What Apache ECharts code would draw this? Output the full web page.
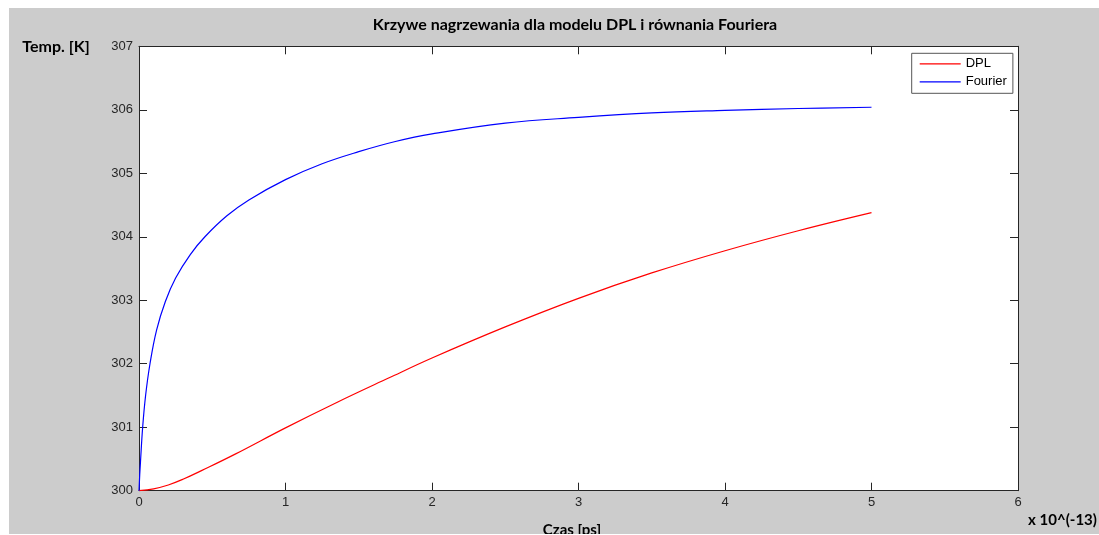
<!DOCTYPE html>
<html>
<head>
<meta charset="utf-8">
<script src="https://cdn.jsdelivr.net/npm/echarts@6/dist/echarts.min.js"></script>
<style>
  html, body { margin: 0; padding: 0; background: #ffffff; }
  #chart { position: absolute; left: 9px; top: 8px; width: 1090px; height: 526px; }
</style>
</head>
<body>
<div id="chart"></div>
<script>
// Heating curves: time in units of 1e-13 s, temperature in K
const dplTime = [0, 0.1, 0.2, 0.3, 0.43, 0.66, 1.0, 1.35, 1.7, 2.0, 2.5, 3.0, 3.5, 4.0, 4.5, 5.0];
const dplTemp = [300, 300.03, 300.09, 300.18, 300.32, 300.58, 300.99, 301.39, 301.77, 302.09, 302.58, 303.03, 303.43, 303.78, 304.095, 304.38];

const fourierTime = [0, 0.005, 0.01, 0.025, 0.045, 0.075, 0.12, 0.18, 0.25, 0.35, 0.45, 0.6, 0.75, 1.0, 1.25, 1.5, 1.75, 2.0, 2.5, 3.0, 3.5, 4.0, 4.5, 5.0];
const fourierTemp = [300, 300.25, 300.45, 301.0, 301.5, 302.0, 302.53, 302.98, 303.35, 303.72, 304.0, 304.33, 304.58, 304.9, 305.15, 305.34, 305.5, 305.62, 305.79, 305.88, 305.95, 305.99, 306.02, 306.04];

const seriesNames = ['DPL', 'Fourier'];
const seriesColors = ['#ff0000', '#0000ff'];

const xTicks = { min: 0, max: 6, step: 1 };
const yTicks = { min: 300, max: 307, step: 1 };

const titleText = 'Krzywe nagrzewania dla modelu DPL i równania Fouriera';
const yName = 'Temp. [K]';
const xName = 'Czas [ps]';
const xScale = 'x 10^(-13)';

const pairs = (xs, ys) => xs.map((x, i) => [x, ys[i]]);

const axisColor = '#262626';
const labelFont = { fontFamily: 'Liberation Sans', fontSize: 13, color: axisColor };
// thin horizontal bar used as the legend line sample
const legendLineIcon = 'path://M0,0h41v1.2h-41z';

function boxAxis(kind, pos, showLabels, t) {
  return {
    type: 'value', position: pos, min: t.min, max: t.max, interval: t.step,
    axisLine: { show: true, onZero: false, lineStyle: { color: axisColor, width: 1 } },
    axisTick: { show: true, inside: true, length: 8, lineStyle: { color: axisColor } },
    splitLine: { show: false },
    axisLabel: Object.assign({ show: showLabels, margin: kind === 'x' ? 5 : 6 }, labelFont)
  };
}

function label(text, x, y, size) {
  return {
    type: 'text',
    style: { text: text, font: 'bold ' + size + 'px Lato', fill: '#000', x: x, y: y, textAlign: 'center', textVerticalAlign: 'middle' }
  };
}

const chart = echarts.init(document.getElementById('chart'), null, { renderer: 'canvas' });
chart.setOption({
  backgroundColor: '#cccccc',
  animation: false,
  grid: { left: 130, top: 38.3, right: 81, bottom: 43.3, show: true, backgroundColor: '#ffffff', borderWidth: 0 },
  xAxis: [boxAxis('x', 'bottom', true, xTicks), boxAxis('x', 'top', false, xTicks)],
  yAxis: [boxAxis('y', 'left', true, yTicks), boxAxis('y', 'right', false, yTicks)],
  legend: {
    orient: 'vertical', left: 902.7, top: 45.3,
    padding: [4, 6, 5, 8], itemGap: 5, itemWidth: 41, itemHeight: 14,
    icon: legendLineIcon,
    backgroundColor: '#ffffff', borderColor: '#555555', borderWidth: 1,
    textStyle: { fontFamily: 'Liberation Sans', fontSize: 13, color: '#000000' },
    data: seriesNames
  },
  series: [
    {
      name: seriesNames[0], type: 'line', xAxisIndex: 0, yAxisIndex: 0,
      data: pairs(dplTime, dplTemp), symbol: 'none', smooth: 0.4,
      lineStyle: { color: seriesColors[0], width: 1.2 }, itemStyle: { color: seriesColors[0] }
    },
    {
      name: seriesNames[1], type: 'line', xAxisIndex: 0, yAxisIndex: 0,
      data: pairs(fourierTime, fourierTemp), symbol: 'none', smooth: 0.4,
      lineStyle: { color: seriesColors[1], width: 1.2 }, itemStyle: { color: seriesColors[1] }
    }
  ],
  graphic: [
    label(titleText, 566, 17, 16),
    label(yName, 47, 39, 16),
    label(xName, 563, 522, 15),
    label(xScale, 1053.5, 512, 15)
  ]
});
</script>
</body>
</html>
